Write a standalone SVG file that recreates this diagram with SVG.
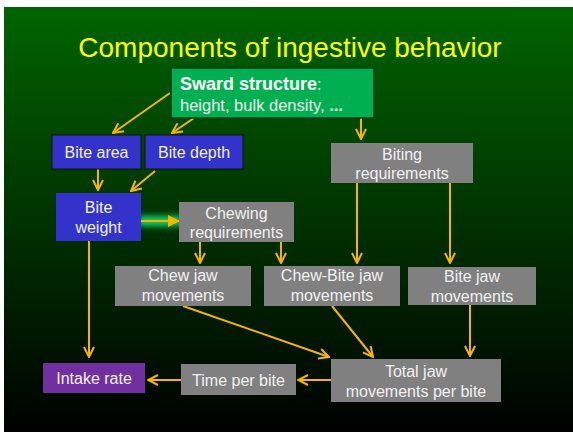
<svg xmlns="http://www.w3.org/2000/svg" width="573" height="432" viewBox="0 0 573 432">
<defs>
<linearGradient id="bg" x1="0" y1="0" x2="0" y2="1">
<stop offset="0" stop-color="#006400"/>
<stop offset="1" stop-color="#000000"/>
</linearGradient>
<marker id="ah" viewBox="0 0 12 12" refX="11" refY="6" markerWidth="12" markerHeight="12" markerUnits="userSpaceOnUse" orient="auto">
<path d="M1,1 L11,6 L1,11" fill="none" stroke="#F7B500" stroke-width="2"/>
</marker>
<marker id="fh" viewBox="0 0 12 12" refX="11" refY="6" markerWidth="12" markerHeight="12" markerUnits="userSpaceOnUse" orient="auto">
<path d="M0,0 L12,6 L0,12 Z" fill="#F7B500"/>
</marker>
<filter id="glow" filterUnits="userSpaceOnUse" x="125" y="200" width="70" height="42">
<feGaussianBlur stdDeviation="3"/>
</filter>
<style>
.lbl{font-family:"Liberation Sans",Arial,sans-serif;font-size:16px;fill:#F2F2F2;text-anchor:middle}
.blue{fill:#3333CC;stroke:#111;stroke-width:1}
.gray{fill:#808080}
.conn{stroke:#F7B500;stroke-width:2;fill:none;marker-end:url(#ah)}
</style>
</defs>
<rect x="0" y="0" width="573" height="432" fill="#FFFFFF"/>
<rect x="4" y="7" width="569" height="425" fill="url(#bg)"/>
<text x="290" y="57" font-family="Liberation Sans,Arial,sans-serif" font-size="28" fill="#FFFF00" text-anchor="middle">Components of ingestive behavior</text>

<g id="connectors">
<line class="conn" x1="170" y1="93" x2="113" y2="133"/>
<line class="conn" x1="194" y1="118" x2="172" y2="133"/>
<line class="conn" x1="361" y1="118" x2="361" y2="139"/>
<line class="conn" x1="98" y1="169" x2="98" y2="190"/>
<line class="conn" x1="155" y1="171" x2="131" y2="191"/>
<line class="conn" x1="89" y1="241" x2="89" y2="357"/>
<line class="conn" x1="200" y1="242" x2="200" y2="263"/>
<line class="conn" x1="281" y1="242" x2="281" y2="263"/>
<line class="conn" x1="357" y1="183" x2="357" y2="263"/>
<line class="conn" x1="450" y1="183" x2="450" y2="263"/>
<line class="conn" x1="183" y1="306" x2="329" y2="357"/>
<line class="conn" x1="332" y1="306" x2="373" y2="357"/>
<line class="conn" x1="470" y1="305" x2="470" y2="356"/>
<line class="conn" x1="331" y1="380" x2="298" y2="380"/>
<line class="conn" x1="181" y1="380" x2="148" y2="380"/>
<g id="glow-arrow">
<path d="M142,221 L170,221 L178,221" stroke="#22FF88" stroke-width="10" stroke-linecap="round" filter="url(#glow)" opacity="0.8"/>
<line x1="141" y1="221" x2="179" y2="221" stroke="#F7B500" stroke-width="2" marker-end="url(#fh)"/>
</g>
</g>

<g id="sward">
<rect x="171" y="68" width="203" height="50" fill="#00B050" stroke="#0A3A1A" stroke-width="1.5"/>
<text x="180" y="90" font-family="Liberation Sans,Arial,sans-serif" font-size="18" fill="#FFFFFF"><tspan font-weight="bold">Sward structure</tspan><tspan font-size="16">:</tspan></text>
<text x="180" y="111" font-family="Liberation Sans,Arial,sans-serif" font-size="16.5" fill="#F2F2F2">height, bulk density, <tspan font-weight="bold">...</tspan></text>
</g>
<g id="bite-area">
<rect class="blue" x="52" y="135" width="89" height="34"/>
<text class="lbl" x="96.5" y="158">Bite area</text>
</g>
<g id="bite-depth">
<rect class="blue" x="145" y="135" width="98" height="34"/>
<text class="lbl" x="194" y="158">Bite depth</text>
</g>
<g id="biting-req">
<rect class="gray" x="331" y="143" width="142" height="40"/>
<text class="lbl" x="402" y="160">Biting</text>
<text class="lbl" x="402" y="179">requirements</text>
</g>
<g id="bite-weight">
<rect x="56" y="193" width="85" height="48" fill="#3333CC"/>
<text class="lbl" x="98.5" y="213">Bite</text>
<text class="lbl" x="98.5" y="233">weight</text>
</g>
<g id="chewing-req">
<rect class="gray" x="179" y="202" width="115" height="40"/>
<text class="lbl" x="236.5" y="219">Chewing</text>
<text class="lbl" x="236.5" y="238">requirements</text>
</g>
<g id="chew-jaw">
<rect class="gray" x="115" y="266" width="136" height="40"/>
<text class="lbl" x="183" y="281">Chew jaw</text>
<text class="lbl" x="183" y="301">movements</text>
</g>
<g id="chew-bite-jaw">
<rect class="gray" x="264" y="266" width="136" height="40"/>
<text class="lbl" x="332" y="281">Chew-Bite jaw</text>
<text class="lbl" x="332" y="301">movements</text>
</g>
<g id="bite-jaw">
<rect class="gray" x="408" y="267" width="128" height="38"/>
<text class="lbl" x="472" y="282">Bite jaw</text>
<text class="lbl" x="472" y="302">movements</text>
</g>
<g id="total-jaw">
<rect class="gray" x="331" y="359" width="170" height="43"/>
<text class="lbl" x="416" y="377">Total jaw</text>
<text class="lbl" x="416" y="397">movements per bite</text>
</g>
<g id="time-per-bite">
<rect class="gray" x="181" y="364" width="115" height="31"/>
<text class="lbl" x="238.5" y="386">Time per bite</text>
</g>
<g id="intake-rate">
<rect x="43" y="363" width="102" height="30" fill="#7030A0"/>
<text class="lbl" x="94" y="384">Intake rate</text>
</g>
</svg>
